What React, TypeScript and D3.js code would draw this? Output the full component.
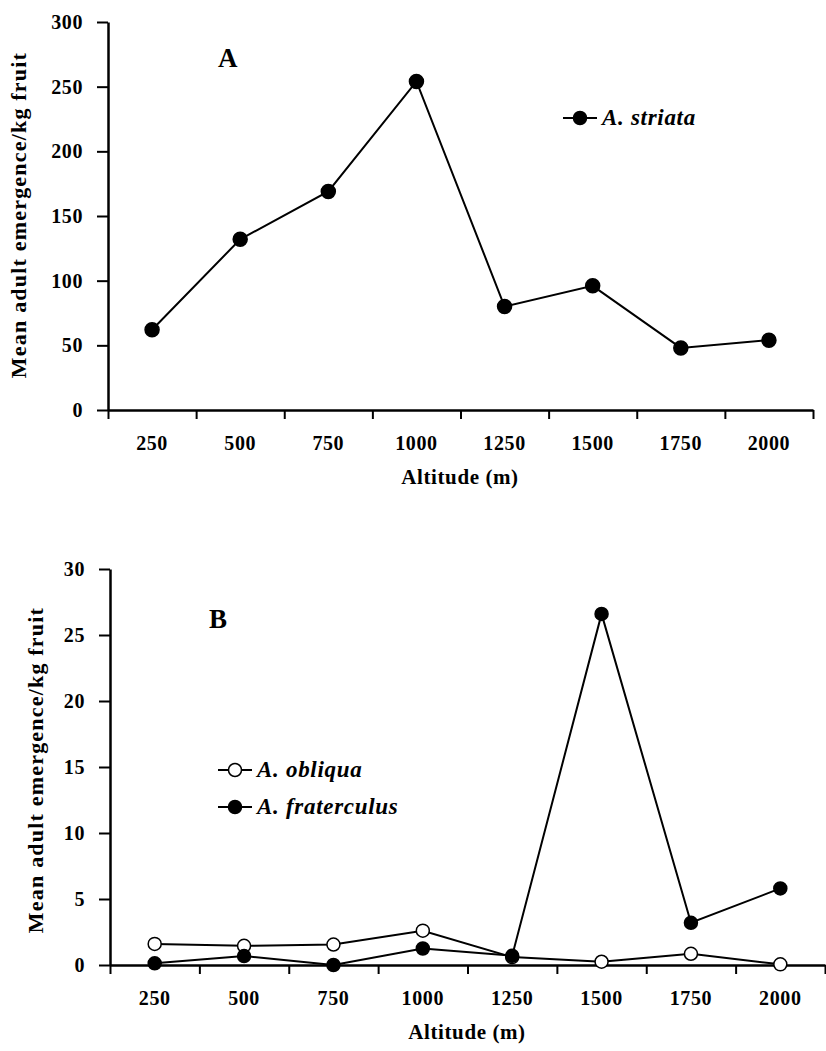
import React, { useRef, useEffect } from 'react';
import * as d3 from 'd3';

const altitudes = ['250', '500', '750', '1000', '1250', '1500', '1750', '2000'];

// panel A
const striata = [62, 132, 169, 254, 80, 96, 48, 54];
const ticksA = [0, 50, 100, 150, 200, 250, 300];

// panel B
const obliqua = [1.6, 1.45, 1.55, 2.6, 0.6, 0.25, 0.85, 0.05];
const fraterculus = [0.13, 0.68, 0, 1.25, 0.7, 26.6, 3.2, 5.8];
const ticksB = [0, 5, 10, 15, 20, 25, 30];

const FONT = '"Liberation Serif", "Times New Roman", serif';

const App = () => {
    const ref = useRef(null);

    useEffect(() => {
        const svg = d3.select(ref.current);
        svg.selectAll('*').remove();

        const drawPanel = (cfg) => {
            const g = svg.append('g');
            const x = d3.scaleBand().domain(altitudes).range([cfg.left, cfg.right]);
            const xEdge = d3.scaleLinear().domain([0, altitudes.length]).range([cfg.left, cfg.right]);
            const y = d3.scaleLinear().domain([0, cfg.max]).range([cfg.bottom, cfg.top]);

            // y axis
            const ya = g.append('g')
                .attr('transform', `translate(${cfg.left},0)`)
                .call(d3.axisLeft(y).tickValues(cfg.ticks).tickSize(11).tickSizeOuter(0).tickPadding(14));
            ya.select('.domain').attr('stroke-width', 2.5);
            ya.selectAll('.tick line').attr('stroke-width', 2);
            ya.selectAll('text')
                .attr('font-family', FONT).attr('font-weight', 'bold').attr('font-size', 20)
                .attr('letter-spacing', 0.6).attr('fill', '#000');

            // x axis: ticks on band edges, labels at band centres
            const xa = g.append('g')
                .attr('transform', `translate(0,${cfg.bottom})`)
                .call(d3.axisBottom(xEdge).tickValues(d3.range(altitudes.length + 1)).tickSize(9).tickSizeOuter(0).tickFormat(() => ''));
            xa.select('.domain').attr('stroke-width', 2.5);
            xa.selectAll('.tick line').attr('stroke-width', 2);

            g.append('g').selectAll('text')
                .data(altitudes)
                .enter()
                .append('text')
                .attr('x', d => x(d) + x.bandwidth() / 2)
                .attr('y', cfg.bottom + 40)
                .attr('text-anchor', 'middle')
                .attr('font-family', FONT).attr('font-weight', 'bold').attr('font-size', 20)
                .attr('letter-spacing', 0.6)
                .text(d => d);

            g.append('text')
                .attr('x', cfg.xTitleX)
                .attr('y', cfg.bottom + 74)
                .attr('text-anchor', 'middle')
                .attr('font-family', FONT).attr('font-weight', 'bold').attr('font-size', 21)
                .attr('letter-spacing', 0.6)
                .text('Altitude (m)');

            g.append('text')
                .attr('transform', `translate(${cfg.yTitleX},${cfg.yTitleY}) rotate(-90)`)
                .attr('text-anchor', 'middle')
                .attr('dominant-baseline', 'central')
                .attr('font-family', FONT).attr('font-weight', 'bold').attr('font-size', 22)
                .attr('letter-spacing', 1.2)
                .text('Mean adult emergence/kg fruit');

            g.append('text')
                .attr('x', cfg.letterX).attr('y', cfg.letterY)
                .attr('font-family', FONT).attr('font-weight', 'bold').attr('font-size', 27)
                .text(cfg.letter);

            const line = d3.line()
                .x((d, i) => x(altitudes[i]) + x.bandwidth() / 2)
                .y(d => y(d));

            cfg.series.forEach(s => {
                g.append('path')
                    .datum(s.values)
                    .attr('fill', 'none')
                    .attr('stroke', '#000')
                    .attr('stroke-width', 2)
                    .attr('d', line);
            });
            cfg.series.forEach(s => {
                g.append('g').selectAll('circle')
                    .data(s.values)
                    .enter()
                    .append('circle')
                    .attr('cx', (d, i) => x(altitudes[i]) + x.bandwidth() / 2)
                    .attr('cy', d => y(d))
                    .attr('r', cfg.r)
                    .attr('fill', s.filled ? '#000' : '#fff')
                    .attr('stroke', '#000')
                    .attr('stroke-width', 1.5);
            });

            // legend
            cfg.series.forEach((s, i) => {
                const ly = cfg.legendY + i * cfg.legendGap;
                const lg = g.append('g').attr('transform', `translate(${cfg.legendX},${ly})`);
                lg.append('line').attr('x1', 0).attr('x2', 34).attr('stroke', '#000').attr('stroke-width', 2);
                lg.append('circle').attr('cx', 17).attr('r', 6.5)
                    .attr('fill', s.filled ? '#000' : '#fff').attr('stroke', '#000').attr('stroke-width', 1.5);
                lg.append('text')
                    .attr('x', 39).attr('y', 7)
                    .attr('font-family', FONT).attr('font-weight', 'bold').attr('font-style', 'italic').attr('font-size', 23)
                    .attr('letter-spacing', 0.7)
                    .text(s.name);
            });
        };

        drawPanel({
            left: 108, right: 813, top: 22, bottom: 410, max: 300, ticks: ticksA,
            xTitleX: 460, yTitleX: 18, yTitleY: 215, letter: 'A', letterX: 218, letterY: 67, r: 7,
            legendX: 563, legendY: 118, legendGap: 0,
            series: [{ name: 'A. striata', values: striata, filled: true }],
        });

        drawPanel({
            left: 110, right: 825, top: 569, bottom: 965, max: 30, ticks: ticksB,
            xTitleX: 467, yTitleX: 35, yTitleY: 770, letter: 'B', letterX: 209, letterY: 628, r: 6.5,
            legendX: 218, legendY: 770, legendGap: 37,
            series: [
                { name: 'A. obliqua', values: obliqua, filled: false },
                { name: 'A. fraterculus', values: fraterculus, filled: true },
            ],
        });
    }, []);

    return (
        <svg ref={ref} width={826} height={1051}
            style={{ position: 'absolute', left: 0, top: 0, background: '#fff' }}></svg>
    );
};

export default App;
